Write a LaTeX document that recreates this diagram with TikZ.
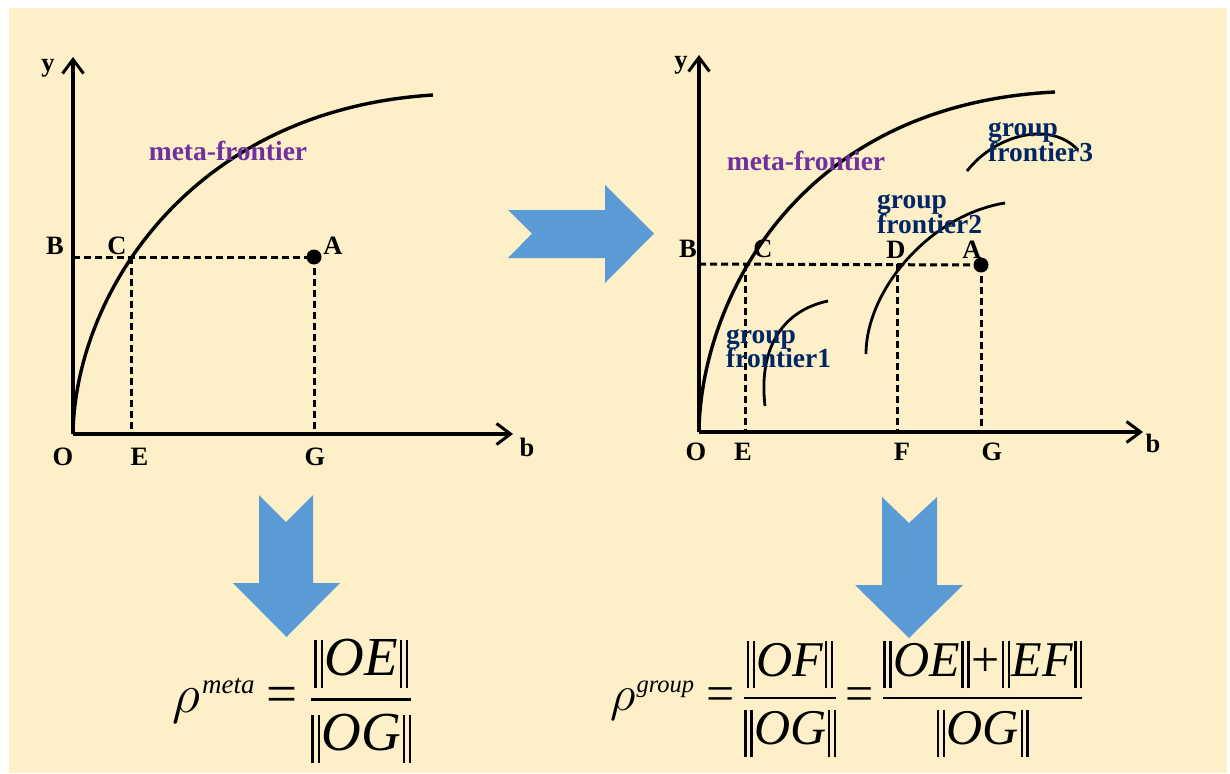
\documentclass[tikz,border=0pt]{standalone}
\usepackage{fix-cm}
\usepackage{fontspec}
\setmainfont{Liberation Serif}
\usetikzlibrary{arrows.meta}
\definecolor{bgyellow}{RGB}{253,239,200}
\definecolor{arrowblue}{RGB}{91,155,213}
\definecolor{metapurple}{RGB}{112,48,160}
\definecolor{groupnavy}{RGB}{0,38,100}
\newcommand\dbarL{\rule[-12pt]{2.5pt}{48pt}\kern3.8pt\rule[-12pt]{2.5pt}{48pt}}
\newcommand\dbarR{\rule[-12pt]{2.4pt}{47pt}\kern3.5pt\rule[-12pt]{2.4pt}{47pt}}
\newcommand\nrmL[1]{\dbarL\kern1.5pt\textit{#1}\kern1.5pt\dbarL}
\newcommand\nrmR[1]{\dbarR\kern1.5pt\textit{#1}\kern1.5pt\dbarR}
\begin{document}
\begin{tikzpicture}[x=1pt,y=-1pt,
  axis/.style={line width=3.4pt,-{Straight Barb[length=14pt,width=21pt,line width=3pt]}},
  frontier/.style={line width=3.4pt},
  gfrontier/.style={line width=2.8pt},
  guide/.style={line width=3pt,dash pattern=on 7pt off 4pt},
  lbl/.style={font=\fontsize{26.5}{30}\selectfont\bfseries,inner sep=0pt,anchor=base},
  metalbl/.style={font=\fontsize{27.5}{30}\selectfont\bfseries,text=metapurple,inner sep=0pt,anchor=base},
  grplbl/.style={font=\fontsize{27.5}{30}\selectfont\bfseries,text=groupnavy,inner sep=0pt,anchor=base west},
  dotnode/.style={circle,fill=black,minimum size=15pt,inner sep=0pt},
  bigarrow/.style={fill=arrowblue,draw=none},
  formula/.style={inner sep=0pt}]
\useasboundingbox (0,0) rectangle (1230,773);
\fill[white] (0,0) rectangle (1230,773);
\fill[bgyellow] (9,8) rectangle (1227,773);

% ---------- left graph ----------
\coordinate (lO) at (73,434);
\coordinate (lYtip) at (73,57);
\coordinate (lXtip) at (513,434);
\coordinate (lBp) at (73,257);
\coordinate (lC) at (131,257);
\coordinate (lA) at (314,257);
\coordinate (lE) at (131,434);
\coordinate (lG) at (314,434);
\coordinate (lEnd) at (433,95);
\draw[guide] (lBp) -- (lA);
\draw[guide] (lC) -- (lE);
\draw[guide] (lA) -- (lG);
\draw[axis] (lO) -- (lYtip);
\draw[axis] (lO) -- (lXtip);
\draw[frontier] (lO) .. controls (75,295) and (190,110) .. (lEnd);
\node[dotnode] (lAdot) at (lA) {};
\node[lbl] (ly) at (48,72) {y};
\node[lbl] (lb) at (527,456) {b};
\node[lbl] (lBl) at (55,254) {B};
\node[lbl] (lCl) at (117,254) {C};
\node[lbl] (lAl) at (333,254) {A};
\node[lbl] (lOl) at (63,465) {O};
\node[lbl] (lEl) at (139.5,465) {E};
\node[lbl] (lGl) at (315,465) {G};
\node[metalbl] (lmeta) at (228,160) {meta-frontier};

% ---------- right graph ----------
\coordinate (rO) at (699,432);
\coordinate (rYtip) at (699,55);
\coordinate (rXtip) at (1143,432);
\coordinate (rBp) at (699,264);
\coordinate (rC) at (745,264);
\coordinate (rD) at (897,264);
\coordinate (rA) at (981,265);
\coordinate (rE) at (745,432);
\coordinate (rF) at (897,432);
\coordinate (rG) at (981,432);
\coordinate (rEnd) at (1055,92);
\draw[guide] (rBp) -- (rA);
\draw[guide] (rC) -- (rE);
\draw[guide] (rD) -- (rF);
\draw[guide] (rA) -- (rG);
\draw[axis] (rO) -- (rYtip);
\draw[axis] (rO) -- (rXtip);
\draw[frontier] (rO) .. controls (700,310) and (790,105) .. (rEnd);
\coordinate (g1s) at (765,406);
\coordinate (g1e) at (828,301);
\coordinate (g2s) at (866,354);
\coordinate (g2e) at (1005,203);
\coordinate (g3s) at (967,171);
\coordinate (g3e) at (1078,150);
\draw[gfrontier] (g1s) .. controls (758,345) and (785,310) .. (g1e);
\draw[gfrontier] (g2s) .. controls (866,290) and (930,215) .. (g2e);
\draw[gfrontier] (g3s) .. controls (995,135) and (1050,120) .. (g3e);
\node[dotnode] (rAdot) at (rA) {};
\node[lbl] (ry) at (681,69) {y};
\node[lbl] (rb) at (1153,452) {b};
\node[lbl] (rBl) at (688,257) {B};
\node[lbl] (rCl) at (763,257) {C};
\node[lbl] (rDl) at (896,258) {D};
\node[lbl] (rAl) at (972,258) {A};
\node[lbl] (rOl) at (696,460) {O};
\node[lbl] (rEl) at (743,460) {E};
\node[lbl] (rFl) at (902,460) {F};
\node[lbl] (rGl) at (992,460) {G};
\node[metalbl] (rmeta) at (806,170) {meta-frontier};
\node[grplbl] (g1a) at (726,343) {group};
\node[grplbl] (g1b) at (726,367) {frontier1};
\node[grplbl] (g2a) at (877,208) {group};
\node[grplbl] (g2b) at (877,233) {frontier2};
\node[grplbl] (g3a) at (988,136) {group};
\node[grplbl] (g3b) at (988,161) {frontier3};

% ---------- block arrows ----------
\fill[bigarrow] (508,210) -- (532,233.5) -- (508,258) -- (605,258) -- (605,283) -- (654,233.5) -- (605,185) -- (605,210) -- cycle;
\fill[bigarrow] (259,495) -- (286,522) -- (313,495) -- (313,583) -- (340,583) -- (286.5,637) -- (233,583) -- (259,583) -- cycle;
\fill[bigarrow] (882,497) -- (909,523) -- (937,497) -- (937,585) -- (963,585) -- (909,638) -- (855,585) -- (882,585) -- cycle;

% ---------- formulas ----------
\node[formula] (fmeta) at (292.5,701) {\fontsize{55}{60}\selectfont$\displaystyle \thickmuskip=4mu \rho\kern2pt\raisebox{19pt}{\fontsize{27}{28}\selectfont\itshape meta}\mathrel{\mbox{=}}{\nrmL{OE}\above 2.6pt\nrmL{OG}}$};
\node[formula] (fgroup) at (847,699) {\fontsize{50}{56}\selectfont$\displaystyle \thickmuskip=3mu \rho\kern1pt\raisebox{18pt}{\fontsize{24.5}{26}\selectfont\itshape group}\kern4pt\mathrel{\mbox{=}}{\nrmR{OF}\above 2.4pt\nrmR{OG}}\mathrel{\mbox{=}}{\nrmR{OE}\kern2pt\mbox{+}\kern2pt\nrmR{EF}\above 2.4pt\nrmR{OG}}$};
\end{tikzpicture}
\end{document}
